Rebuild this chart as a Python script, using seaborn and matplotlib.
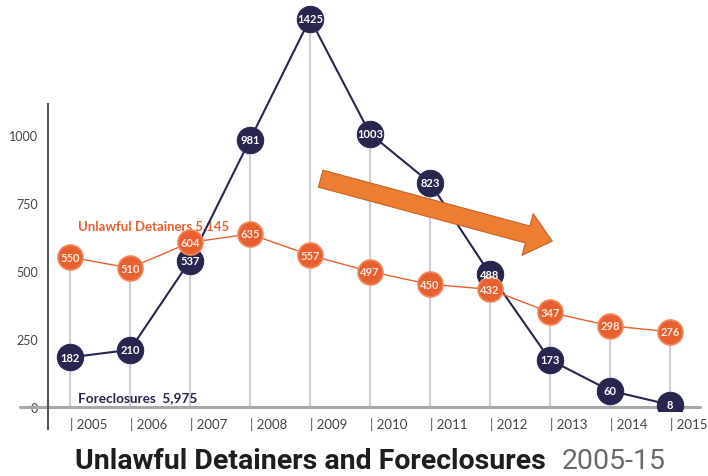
import matplotlib
matplotlib.use('Agg')
import matplotlib.pyplot as plt
import seaborn as sns
import numpy as np
import pandas as pd

years = list(range(2005, 2016))
foreclosures = [182, 210, 537, 981, 1425, 1003, 823, 488, 173, 60, 8]
unlawful_detainers = [550, 510, 604, 635, 557, 497, 450, 432, 347, 298, 276]
year_labels = ["| " + str(y) for y in years]
y_ticks = [0, 250, 500, 750, 1000]

NAVY = '#27264f'
ORANGE = '#e8602f'
ARROW = '#ed7d31'

sns.set_theme(style='white')
plt.rcParams['font.family'] = ['Lato', 'DejaVu Sans']

df = pd.DataFrame({'year': years, 'fc': foreclosures, 'ud': unlawful_detainers})

fig = plt.figure(figsize=(7.08, 4.77), dpi=100)
ax = fig.add_axes([48/708, 65/477, 652/708, 407/477])
ax.set_xlim(2004.633, 2015.5)
ax.set_ylim(-14.7, 1479)

# vertical guide lines
ax.vlines(df['year'], 0, np.maximum(df['fc'], df['ud']), color='#d0d0d4', lw=1.6, zorder=1)
# baseline
ax.axhline(0, xmin=-0.043, xmax=1.0, color='#a8a8a8', lw=2.2, zorder=1, clip_on=False)

sns.lineplot(data=df, x='year', y='fc', color=NAVY, lw=1.5, marker='o', markersize=19,
             markeredgecolor=NAVY, ax=ax, zorder=3)
sns.lineplot(data=df, x='year', y='ud', color=ORANGE, lw=1.0, marker='o', markersize=18,
             markeredgecolor='#f08a5d', markeredgewidth=1.2, ax=ax, zorder=4)

for x, v in zip(years, foreclosures):
    ax.text(x, v, str(v), ha='center', va='center', color='white', fontsize=8,
            fontweight='bold', zorder=5)
for x, v in zip(years, unlawful_detainers):
    ax.text(x, v, str(v), ha='center', va='center', color='#fde8dc', fontsize=8,
            fontweight='bold', zorder=6)

ax.text(2005.13, 668, 'Unlawful Detainers 5,145', color=ORANGE, fontsize=9.5,
        fontweight='bold', ha='left', va='center', zorder=2)
ax.text(2005.13, 37, 'Foreclosures  5,975', color=NAVY, fontsize=9.8,
        fontweight='bold', ha='left', va='center', zorder=2)

# arrow annotation
ax.annotate('', xy=(2013.083, 606), xytext=(2009.133, 840.7),
            arrowprops=dict(arrowstyle='simple,head_width=2.7,head_length=1.6,tail_width=1.1',
                            mutation_scale=11.5, facecolor=ARROW, edgecolor='#c5642a', lw=0.8),
            zorder=7)

ax.set_xticks(years)
ax.set_xticklabels(year_labels, ha='left', fontsize=9.5, color='#444444')
ax.set_yticks(y_ticks)
ax.set_yticklabels([str(t) for t in y_ticks], fontsize=9, color='#444444')
ax.tick_params(axis='both', length=0)
ax.tick_params(axis='x', pad=4)
ax.tick_params(axis='y', pad=7)
ax.set_xlabel('')
ax.set_ylabel('')

for s in ['top', 'right', 'bottom']:
    ax.spines[s].set_visible(False)
ax.spines['left'].set_color('#555555')
ax.spines['left'].set_linewidth(1.5)
ax.spines['left'].set_bounds(-80, 1112)

fig.text(546/708, 8/477, 'Unlawful Detainers and Foreclosures', ha='right', va='baseline',
         fontsize=20.5, fontweight='bold', color='#1e1e1e', family=['Roboto', 'DejaVu Sans'])
fig.text(562/708, 8/477, '2005-15', ha='left', va='baseline',
         fontsize=20.5, color='#6a6a6a', family=['Roboto', 'DejaVu Sans'])

fig.savefig('out.png', dpi=100, facecolor='white')
